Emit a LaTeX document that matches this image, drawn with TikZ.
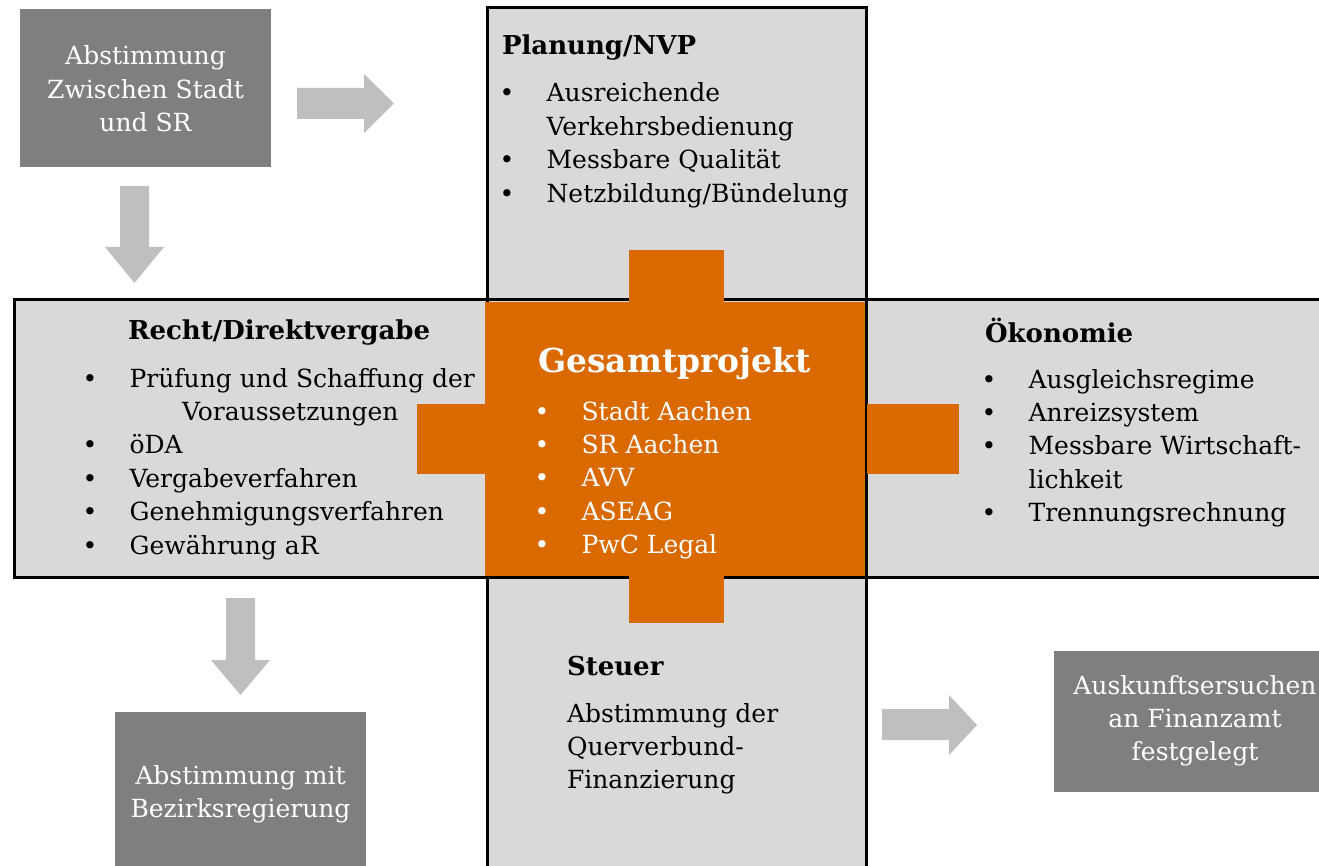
\documentclass[tikz,border=0pt]{standalone}
\usepackage{fontspec}
\setmainfont{DejaVu Serif}
\definecolor{dk}{HTML}{7F7F7F}
\definecolor{ar}{HTML}{BFBFBF}
\definecolor{lt}{HTML}{D9D9D9}
\definecolor{pwc}{HTML}{DA6A00}
\newcommand{\fs}{\rule{0pt}{26pt}}
\newcommand{\bl}[1]{\makebox[47pt][l]{•}#1}
\newcommand{\ind}{\hspace*{47pt}}
\begin{document}
\begin{tikzpicture}[x=1pt,y=-1pt,
  every node/.style={inner sep=0pt, outer sep=0pt},
  txt/.style={font=\fontsize{25}{33.4}\selectfont, anchor=north west, align=left},
  hd/.style={font=\fontsize{26}{30}\selectfont\bfseries, anchor=base west},
  wtxt/.style={font=\fontsize{25}{33.4}\selectfont, text=white, align=center, anchor=north},
  darkbox/.style={fill=dk, anchor=north west},
  panel/.style={fill=lt},
  frame/.style={draw=black, line width=3pt},
  blockarrow/.style={fill=ar},
  piece/.style={fill=pwc}]

\path[use as bounding box] (0,0) rectangle (1319,866);
\clip (0,0) rectangle (1319,866);

% panels
\fill[panel] (487,8) rectangle (866,900);
\fill[panel] (14,300) rectangle (1340,577);
\draw[frame] (487,8) rectangle (866,900);
\draw[frame] (14,300) rectangle (1340,577);

% orange cross
\fill[piece] (485,302) rectangle (865,576);
\fill[piece] (629,250) rectangle (724,302);
\fill[piece] (629,576) rectangle (724,623);
\fill[piece] (417,404) rectangle (485,474);
\fill[piece] (867,404) rectangle (959,474);

% dark boxes (text: first baseline = y + 26)
\node[darkbox, minimum width=251pt, minimum height=158pt] (stadtsr) at (20,9) {};
\node[wtxt] (stadtsrtext) at (145.5,39) {\fs Abstimmung\\Zwischen Stadt\\und SR};
\node[darkbox, minimum width=251pt, minimum height=170pt] (bezirk) at (115,712) {};
\node[wtxt] (bezirktext) at (240.5,758) {\fs Abstimmung mit\\Bezirksregierung};
\node[darkbox, minimum width=282pt, minimum height=141pt] (fa) at (1054,651) {};
\node[wtxt] (fatext) at (1195,668) {\fs Auskunftsersuchen\\an Finanzamt\\festgelegt};

% block arrows
\fill[blockarrow] (297,88) -- (364,88) -- (364,74) -- (394,103.5) -- (364,133) -- (364,119) -- (297,119) -- cycle;
\fill[blockarrow] (120,186) -- (149,186) -- (149,247) -- (164,247) -- (134.5,283) -- (105,247) -- (120,247) -- cycle;
\fill[blockarrow] (226,598) -- (255,598) -- (255,660) -- (270,660) -- (240.5,695) -- (211,660) -- (226,660) -- cycle;
\fill[blockarrow] (882,709) -- (949,709) -- (949,695) -- (977,725) -- (949,755) -- (949,740) -- (882,740) -- cycle;

% Planung
\node[hd] (planhd) at (502,55) {Planung/NVP};
\node[txt] (planlist) at (499.6,76) {\fs\bl{Ausreichende}\\\ind Verkehrsbedienung\\\bl{Messbare Qualität}\\\bl{Netzbildung/Bündelung}};

% Recht
\node[hd] (rechthd) at (128,340) {Recht/Direktvergabe};
\node[txt] (rechtlist) at (82.6,361) {\fs\bl{Prüfung und Schaffung der}\\\hspace*{99.4pt}Voraussetzungen\\\bl{öDA}\\\bl{Vergabeverfahren}\\\bl{Genehmigungsverfahren}\\\bl{Gewährung aR}};

% Gesamtprojekt
\node[font=\fontsize{33}{38}\selectfont\bfseries, text=white, anchor=base west] (gesamthd) at (538,372) {Gesamtprojekt};
\node[txt, text=white] (gesamtlist) at (534.6,394) {\fs\bl{Stadt Aachen}\\\bl{SR Aachen}\\\bl{AVV}\\\bl{ASEAG}\\\bl{PwC Legal}};

% Oekonomie
\node[hd] (oekhd) at (985,342) {Ökonomie};
\node[txt] (oeklist) at (981.6,362) {\fs\bl{Ausgleichsregime}\\\bl{Anreizsystem}\\\bl{Messbare Wirtschaft-}\\\ind lichkeit\\\bl{Trennungsrechnung}};

% Steuer
\node[hd] (steuerhd) at (567,675) {Steuer};
\node[txt] (steuertext) at (567,696) {\fs Abstimmung der\\Querverbund-\\Finanzierung};
\end{tikzpicture}
\end{document}
